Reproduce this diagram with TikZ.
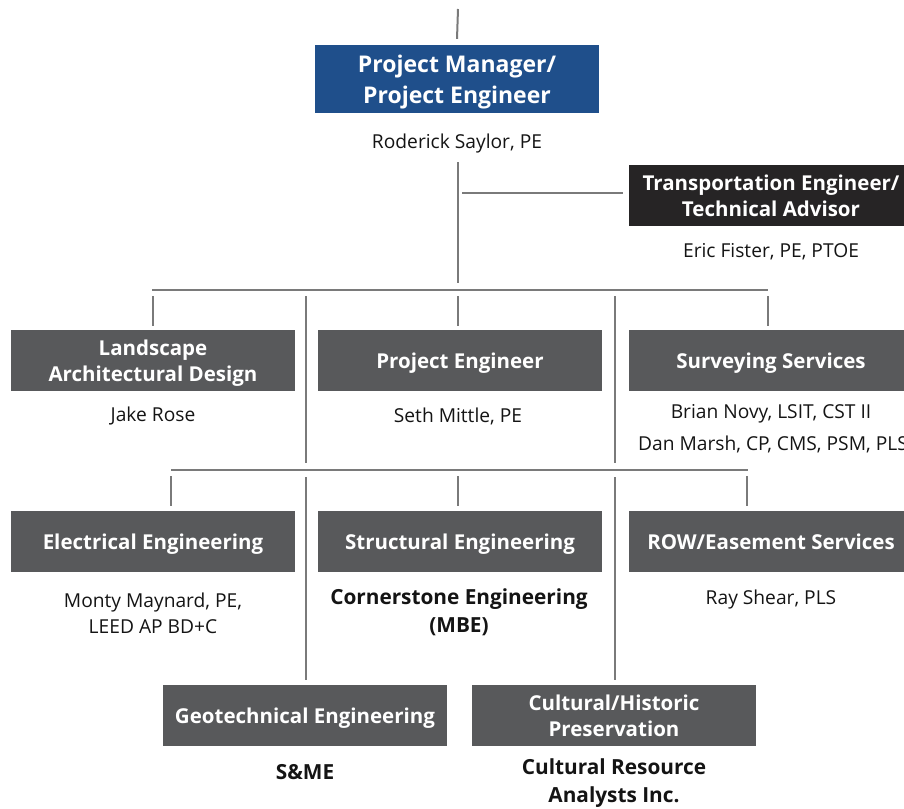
\documentclass[tikz,border=0pt]{standalone}
\usepackage{fontspec}
\setmainfont{Open Sans}
\definecolor{pmblue}{RGB}{31,79,139}
\definecolor{advdark}{RGB}{38,36,37}
\definecolor{boxgray}{RGB}{88,89,91}
\definecolor{linegray}{RGB}{122,122,122}
\definecolor{nametext}{RGB}{20,20,20}
\begin{document}
\begin{tikzpicture}[x=1pt,y=-1pt,
  box/.style={fill=boxgray, text=white, minimum width=284pt, minimum height=61pt,
    inner sep=0pt, align=center, text depth=0pt,
    font=\fontsize{20.5}{26}\selectfont\bfseries},
  namelbl/.style={text=nametext, inner sep=0pt, align=center,
    font=\fontsize{19.2}{26}\selectfont},
  boldname/.style={namelbl, font=\fontsize{20.8}{28}\selectfont\bfseries},
  conn/.style={draw=linegray, line width=2pt}]
\useasboundingbox (0,0) rectangle (904,808);

% ---- boxes ----
\node[box, fill=pmblue, minimum height=68pt, text depth=-4pt,
  font=\fontsize{23}{31}\selectfont\bfseries]
  (pm) at (457,79) {Project Manager/\\Project Engineer};
\node[namelbl] (pmname) at (457,144) {Roderick Saylor, PE};

\node[box, fill=advdark] (adv) at (771,195.5) {Transportation Engineer/\\Technical Advisor};
\node[namelbl] (advname) at (771,252) {Eric Fister, PE, PTOE};

\node[box] (land) at (153,360.5) {Landscape\\Architectural Design};
\node[namelbl] (landname) at (153,416) {Jake Rose};
\node[box] (pe) at (460,360.5) {Project Engineer};
\node[namelbl] (pename) at (458,416) {Seth Mittle, PE};
\node[box] (surv) at (771,360.5) {Surveying Services};
\node[namelbl] (survname1) at (771,414) {Brian Novy, LSIT, CST II};
\node[namelbl] (survname2) at (773,444) {Dan Marsh, CP, CMS, PSM, PLS};

\node[box] (elec) at (153,541.5) {Electrical Engineering};
\node[namelbl] (elecname) at (153,613) {Monty Maynard, PE,\\LEED AP BD+C};
\node[box] (struct) at (460,541.5) {Structural Engineering};
\node[boldname] (structname) at (459,612) {Cornerstone Engineering\\(MBE)};
\node[box] (row) at (771,541.5) {ROW/Easement Services};
\node[namelbl] (rowname) at (771,600) {Ray Shear, PLS};

\node[box] (geo) at (305,715.5) {Geotechnical Engineering};
\node[boldname] (geoname) at (305,772) {S\&ME};
\node[box] (cult) at (614,715.5) {Cultural/Historic\\Preservation};
\node[boldname] (cultname) at (614,783) {Cultural Resource\\Analysts Inc.};

% ---- junction points ----
\coordinate (top) at (458,9);
\coordinate (trunkA) at (458,162);
\coordinate (trunkB) at (458,283);
\coordinate (advtap) at (462,193);
\coordinate (busAL) at (152,290);
\coordinate (busAR) at (768,290);
\coordinate (busBL) at (171,470);
\coordinate (busBR) at (748,470);

% ---- connectors ----
\draw[conn] (top) -- ([yshift=6pt]pm.north);
\draw[conn] (trunkA) -- (trunkB);
\draw[conn] (advtap) -- ([xshift=-6pt]adv.west |- advtap);
\draw[conn] (busAL) -- (busAR);
% drops to the second row
\draw[conn] (153,296) -- ([yshift=4pt]land.north -| 153,0);
\draw[conn] (458,296) -- (458,326);
\draw[conn] (768,296) -- (768,326);
% long drops to the bottom row
\draw[conn] (306,296) -- (306,463);
\draw[conn] (306,477) -- ([yshift=5pt]geo.north -| 306,0);
\draw[conn] (615,296) -- (615,463);
\draw[conn] (615,477) -- ([yshift=5pt]cult.north -| 615,0);
% second bus and drops to the third row
\draw[conn] (busBL) -- (busBR);
\draw[conn] (171,476) -- (171,506);
\draw[conn] (458,476) -- (458,506);
\draw[conn] (747,476) -- (747,506);
\end{tikzpicture}
\end{document}
